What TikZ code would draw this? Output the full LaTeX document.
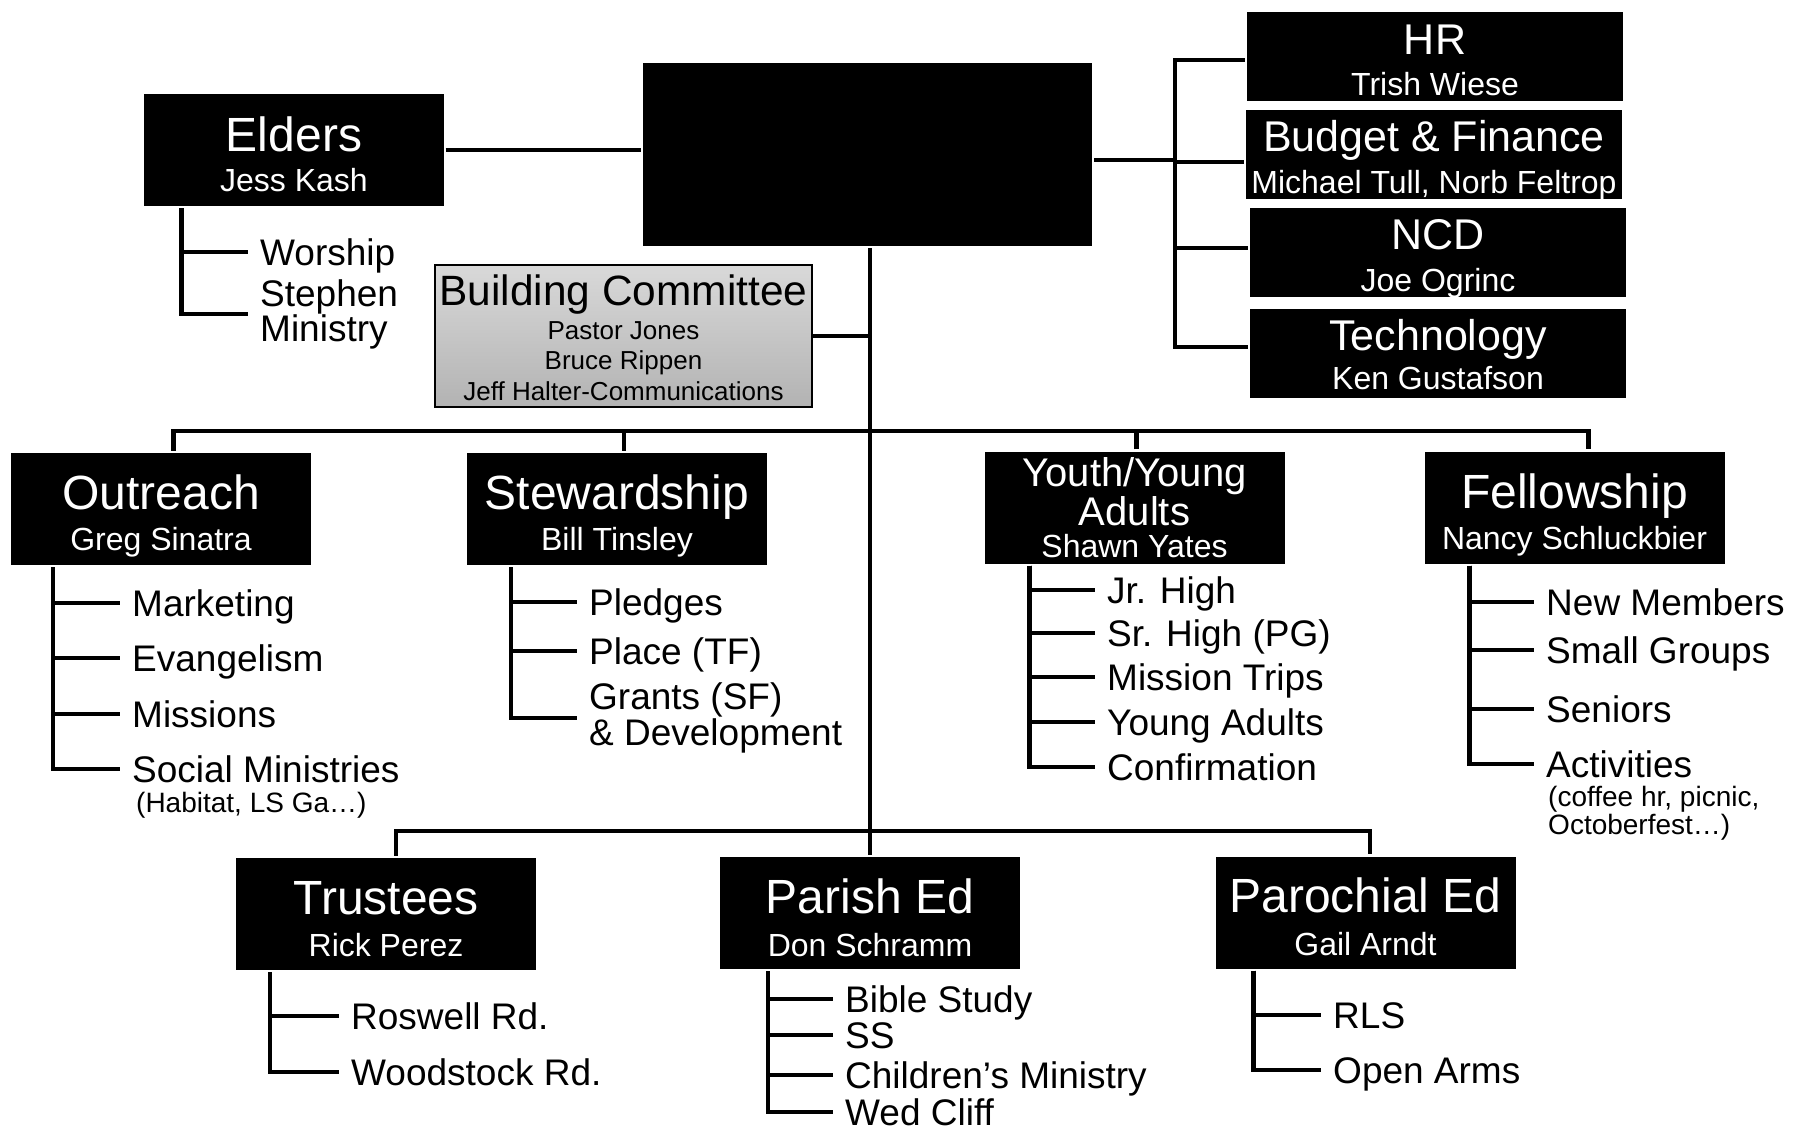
\documentclass[tikz,border=0pt]{standalone}
\usepackage{fontspec}
\setmainfont{Liberation Sans}

\begin{document}
\begin{tikzpicture}[x=0.5pt,y=-0.5pt,line width=2.2pt,
    unit/.style={fill=black,inner sep=0pt,minimum width=150pt,minimum height=56pt},
    staff/.style={fill=black,inner sep=0pt,minimum width=188pt,minimum height=44.5pt},
    ttl/.style={text=white,inner sep=0pt,font=\fontsize{24pt}{24pt}\selectfont,text height=17.2pt,text depth=0pt},
    sttl/.style={text=white,inner sep=0pt,font=\fontsize{21.5pt}{21.5pt}\selectfont,text height=15.4pt,text depth=0pt},
    who/.style={text=white,inner sep=0pt,font=\fontsize{16pt}{16pt}\selectfont,text height=11.5pt,text depth=0pt},
    task/.style={anchor=west,inner sep=5pt,align=left,font=\fontsize{18.5pt}{19pt}\selectfont,text height=13.3pt,text depth=0pt},
    aside/.style={anchor=west,inner sep=6pt,align=left,font=\fontsize{14pt}{12.6pt}\selectfont}]
  \useasboundingbox (0,0) rectangle (1794,1132);

  % top of the chart
  \node[fill=black,minimum width=224.5pt,minimum height=91.5pt,inner sep=0pt] (top) at (867.5,154.5) {};

  \node[unit] (eld) at (293.5,150) {};
  \node[ttl] (eldT) at (294,134) {Elders};
  \node[who] (eldW) at (294,180) {Jess Kash};

  \node[staff] (hr) at (1435,56) {};
  \node[sttl] (hrT) at (1435,39) {HR};
  \node[who] (hrW) at (1435,84) {Trish Wiese};
  \node[staff] (bud) at (1434,154) {};
  \node[sttl] (budT) at (1434,136) {Budget \& Finance};
  \node[who] (budW) at (1434,182) {Michael Tull, Norb Feltrop};
  \node[staff] (ncd) at (1438,252) {};
  \node[sttl] (ncdT) at (1438,234) {NCD};
  \node[who] (ncdW) at (1438,280) {Joe Ogrinc};
  \node[staff] (tec) at (1438,353) {};
  \node[sttl] (tecT) at (1438,335) {Technology};
  \node[who] (tecW) at (1438,378) {Ken Gustafson};

  \node[draw=black,line width=1pt,top color=gray!30,bottom color=gray!60,
        minimum width=188.5pt,minimum height=71pt,inner sep=0pt] (bld) at (623.5,336) {};
  \node[inner sep=0pt,font=\fontsize{21.2pt}{21.2pt}\selectfont,text height=15.2pt,text depth=0pt] (bldT) at (623.5,290) {Building Committee};
  \node[inner sep=0pt,align=center,font=\fontsize{13pt}{15.2pt}\selectfont] (bldW) at (623.5,361)
    {Pastor Jones\\Bruce Rippen\\Jeff Halter-Communications};

  % middle row
  \node[unit] (out) at (161,509) {};
  \node[ttl] (outT) at (161,492) {Outreach};
  \node[who] (outW) at (161,539) {Greg Sinatra};
  \node[unit] (stw) at (617,509) {};
  \node[ttl] (stwT) at (617,492) {Stewardship};
  \node[who] (stwW) at (617,539) {Bill Tinsley};
  \node[unit] (yth) at (1134.5,507.5) {};
  \node[inner sep=0pt,align=center,text=white,font=\fontsize{20pt}{19.5pt}\selectfont] (ythT) at (1134.5,492) {Youth/Young\\Adults};
  \node[who] (ythW) at (1134.5,546) {Shawn Yates};
  \node[unit] (fel) at (1574.5,507.5) {};
  \node[ttl] (felT) at (1574.5,491) {Fellowship};
  \node[who] (felW) at (1574.5,538) {Nancy Schluckbier};

  % bottom row
  \node[unit] (tru) at (386,914) {};
  \node[ttl] (truT) at (386,897) {Trustees};
  \node[who] (truW) at (386,945) {Rick Perez};
  \node[unit] (pae) at (870,913) {};
  \node[ttl] (paeT) at (870,896) {Parish Ed};
  \node[who] (paeW) at (870,945) {Don Schramm};
  \node[unit] (poe) at (1365.5,912.5) {};
  \node[ttl] (poeT) at (1365.5,895) {Parochial Ed};
  \node[who] (poeW) at (1365.5,944) {Gail Arndt};

  % the lists
  \node[task] (wor) at (248,252) {Worship};
  \node[task,text height={},text depth={},font=\fontsize{18.5pt}{17.5pt}\selectfont] (stm) at (248,314) {Stephen\\Ministry};

  \node[task] (mkt) at (120,603) {Marketing};
  \node[task] (evg) at (120,658) {Evangelism};
  \node[task] (mis) at (120,714) {Missions};
  \node[task] (soc) at (120,769) {Social Ministries};
  \node[aside] (hab) at (122,805) {(Habitat, LS Ga…)};

  \node[task] (plg) at (577,602) {Pledges};
  \node[task] (plc) at (577,651) {Place (TF)};
  \node[task,text height={},text depth={},font=\fontsize{18.5pt}{18pt}\selectfont] (grt) at (577,718) {Grants (SF)\\\& Development};

  \node[task] (jrh) at (1095,590) {Jr. High};
  \node[task] (srh) at (1095,633) {Sr. High (PG)};
  \node[task] (mst) at (1095,677) {Mission Trips};
  \node[task] (yad) at (1095,722) {Young Adults};
  \node[task] (cnf) at (1095,767) {Confirmation};

  \node[task] (nwm) at (1534,602) {New Members};
  \node[task] (smg) at (1534,650) {Small Groups};
  \node[task] (snr) at (1534,709) {Seniors};
  \node[task] (act) at (1534,764) {Activities};
  \node[aside] (cof) at (1534,813) {(coffee hr, picnic,\\Octoberfest…)};

  \node[task] (rsw) at (339,1016) {Roswell Rd.};
  \node[task] (wds) at (339,1072) {Woodstock Rd.};

  \node[task] (bib) at (833,999) {Bible Study};
  \node[task] (ss) at (833,1035) {SS};
  \node[task] (chm) at (833,1075) {Children’s Ministry};
  \node[task] (wed) at (833,1112) {Wed Cliff};

  \node[task] (rls) at (1321,1015) {RLS};
  \node[task] (opa) at (1321,1070) {Open Arms};

  % connectors
  \coordinate (hub) at (870,431);
  \coordinate (hub2) at (870,831);
  \coordinate (rbus) at (1175,160);

  \draw (top.south -| pae.north) -- (pae.north);
  \draw (eld.east) -- (eld.east -| top.west);
  \draw (bld.east) -- (bld.east -| pae.north);
  \draw ([yshift=-2.75pt]top.east) -- (rbus);
  \draw ([yshift=-2pt]hr.west) -| (rbus) |- ([yshift=3pt]tec.west);
  \draw ([yshift=-4pt]bud.west) -- ([yshift=-4pt]bud.west -| rbus);
  \draw ([yshift=2pt]ncd.west) -- ([yshift=2pt]ncd.west -| rbus);

  \draw ([xshift=6.3pt]out.north) |- (hub) -| ([xshift=6.9pt]fel.north);
  \draw ([xshift=3.5pt]stw.north) |- (hub);
  \draw ([xshift=1pt]yth.north) |- (hub);
  \draw ([xshift=5pt]tru.north) |- (hub2) -| ([xshift=2.3pt]poe.north);

  \draw ([xshift=20pt]eld.south west) |- (wor.west);
  \draw ([xshift=20pt]eld.south west) |- (stm.west);

  \draw ([xshift=22pt]out.south west) |- (mkt.west);
  \draw ([xshift=22pt]out.south west) |- (evg.west);
  \draw ([xshift=22pt]out.south west) |- (mis.west);
  \draw ([xshift=22pt]out.south west) |- (soc.west);

  \draw ([xshift=23pt]stw.south west) |- (plg.west);
  \draw ([xshift=23pt]stw.south west) |- (plc.west);
  \draw ([xshift=23pt]stw.south west) |- (grt.west);

  \draw ([xshift=23.5pt]yth.south west) |- (jrh.west);
  \draw ([xshift=23.5pt]yth.south west) |- (srh.west);
  \draw ([xshift=23.5pt]yth.south west) |- (mst.west);
  \draw ([xshift=23.5pt]yth.south west) |- (yad.west);
  \draw ([xshift=23.5pt]yth.south west) |- (cnf.west);

  \draw ([xshift=23.5pt]fel.south west) |- (nwm.west);
  \draw ([xshift=23.5pt]fel.south west) |- (smg.west);
  \draw ([xshift=23.5pt]fel.south west) |- (snr.west);
  \draw ([xshift=23.5pt]fel.south west) |- (act.west);

  \draw ([xshift=18pt]tru.south west) |- (rsw.west);
  \draw ([xshift=18pt]tru.south west) |- (wds.west);

  \draw ([xshift=25pt]pae.south west) |- (bib.west);
  \draw ([xshift=25pt]pae.south west) |- (ss.west);
  \draw ([xshift=25pt]pae.south west) |- (chm.west);
  \draw ([xshift=25pt]pae.south west) |- (wed.west);

  \draw ([xshift=20pt]poe.south west) |- (rls.west);
  \draw ([xshift=20pt]poe.south west) |- (opa.west);
\end{tikzpicture}
\end{document}
